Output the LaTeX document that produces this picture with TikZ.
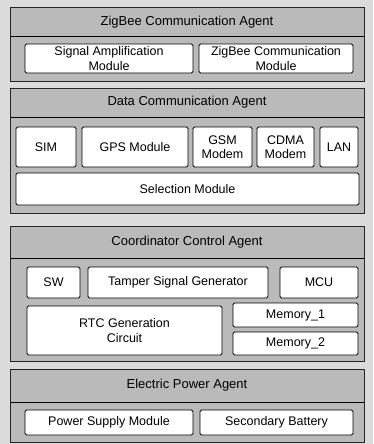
\documentclass[tikz,border=0pt]{standalone}
\usepackage{fontspec}
\setmainfont{Liberation Sans}

\tikzset{
  agent/.style = {draw = black!85, line width = 1pt, fill = black!27},
  agenttitle/.style = {font = \fontsize{13}{15}\selectfont},
  module/.style = {draw, line width = .9pt, fill = white, rounded corners = 1.5pt,
    inner sep = 0pt, align = center, font = \fontsize{12.5}{14.5}\selectfont}
}

\begin{document}
\begin{tikzpicture}[x = 1pt, y = -1pt]
  \useasboundingbox (0, 0) rectangle (373, 444);
  \fill[black!14] (0, 0) rectangle (373, 444);

  % ZigBee communication agent
  \draw[agent] (10, 8) rectangle (364, 81);
  \draw[line width = .8pt] (10, 36) -- (364, 36);
  \node[agenttitle] (zbagent) at (187, 22) {ZigBee Communication Agent};
  \node[module, minimum width = 168, minimum height = 29] (sigamp)
  at (109, 58.5) {Signal Amplification\\Module};
  \node[module, minimum width = 154, minimum height = 29] (zbmod)
  at (276, 58.5) {ZigBee Communication\\Module};

  % data communication agent
  \draw[agent] (10, 88) rectangle (364, 213);
  \draw[line width = .8pt] (10, 117) -- (364, 117);
  \node[agenttitle] (dcagent) at (187, 102) {Data Communication Agent};
  \node[module, minimum width = 60, minimum height = 40] (sim)
  at (46, 147) {SIM};
  \node[module, minimum width = 106, minimum height = 40] (gps)
  at (135, 147) {GPS Module};
  \node[module, minimum width = 59, minimum height = 40] (gsm)
  at (222.5, 147) {GSM\\Modem};
  \node[module, minimum width = 57, minimum height = 40] (cdma)
  at (285.5, 147) {CDMA\\Modem};
  \node[module, minimum width = 38, minimum height = 40] (lan)
  at (339, 147) {LAN};
  \node[module, minimum width = 343, minimum height = 32] (select)
  at (187.5, 189) {Selection Module};

  % coordinator control agent
  \draw[agent] (10, 226) rectangle (364, 361);
  \draw[line width = .8pt] (10, 258) -- (364, 258);
  \node[agenttitle] (ccagent) at (187, 242) {Coordinator Control Agent};
  \node[module, minimum width = 53, minimum height = 31] (sw)
  at (53.5, 282.5) {SW};
  \node[module, minimum width = 180, minimum height = 31] (tamper)
  at (178, 282.5) {Tamper Signal Generator};
  \node[module, minimum width = 78, minimum height = 31] (mcu)
  at (319, 282.5) {MCU};
  \node[module, minimum width = 195, minimum height = 49] (rtc)
  at (124.5, 330.5) {RTC Generation\\Circuit};
  \node[module, minimum width = 125, minimum height = 24] (memA)
  at (295.5, 315) {Memory\_1};
  \node[module, minimum width = 125, minimum height = 23] (memB)
  at (295.5, 343.5) {Memory\_2};

  % electric power agent
  \draw[agent] (10, 369) rectangle (364, 442);
  \draw[line width = .8pt] (10, 402) -- (364, 402);
  \node[agenttitle] (epagent) at (187, 385.5) {Electric Power Agent};
  \node[module, minimum width = 168, minimum height = 25] (psu)
  at (109, 422.5) {Power Supply Module};
  \node[module, minimum width = 153, minimum height = 25] (battery)
  at (276.5, 422.5) {Secondary Battery};
\end{tikzpicture}
\end{document}
